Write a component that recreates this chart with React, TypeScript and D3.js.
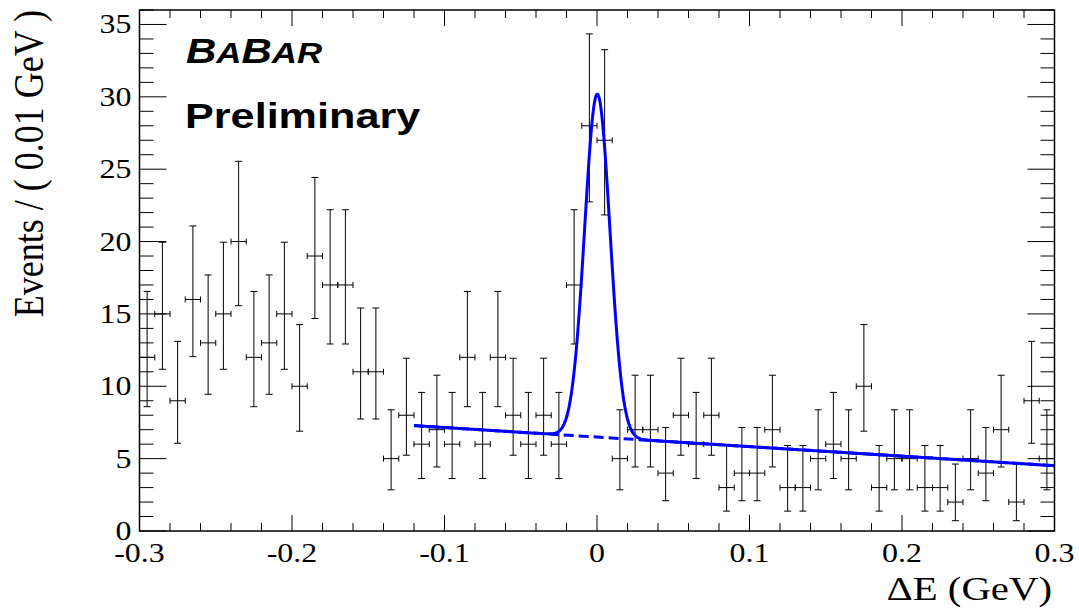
import React from "react";
import * as d3 from "d3";

const W = 1079;
const H = 609;
const frame = { left: 139.5, right: 1054.5, top: 10, bottom: 531 };

// Histogram: events per 0.01 GeV bin in ΔE, from -0.3 to 0.3 GeV
const binLowEdge = -0.3;
const binWidth = 0.01;
const counts = [
  12, 15, 9, 16, 13, 15, 20, 12, 13, 15, 10, 19, 17, 17, 11, 11, 5, 8, 6, 7,
  6, 12, 6, 12, 8, 6, 8, 6, 17, 28, 27, 5, 7, 7, 4, 8, 6, 8, 3, 4,
  4, 7, 3, 3, 5, 6, 5, 10, 3, 5, 5, 3, 3, 2, 5, 4, 7, 2, 9, 5,
];

const xMajorTicks = [-0.3, -0.2, -0.1, 0, 0.1, 0.2, 0.3];
const xTickLabels = ["-0.3", "-0.2", "-0.1", "0", "0.1", "0.2", "0.3"];
const yMajorTicks = [0, 5, 10, 15, 20, 25, 30, 35];
const yTickLabels = ["0", "5", "10", "15", "20", "25", "30", "35"];

// Fit result: Gaussian signal on a linear background (events per bin)
const fitRange = [-0.12, 0.3];
const bkgAtZero = 6.49;
const bkgSlope = -6.6;
const sigAmplitude = 23.7;
const sigMean = 0.0002;
const sigSigma = 0.0083;

const xScale = d3.scaleLinear().domain([-0.3, 0.3]).range([frame.left, frame.right]);
const yScale = d3.scaleLinear().domain([0, 36]).range([frame.bottom, frame.top]);

// 68% Poisson interval (Wilson-Hilferty approximation of the Garwood limits)
function poissonInterval(n: number): [number, number] {
  const lo = n === 0 ? 0 : n * Math.pow(1 - 1 / (9 * n) - 1 / (3 * Math.sqrt(n)), 3);
  const m = n + 1;
  const hi = m * Math.pow(1 - 1 / (9 * m) + 1 / (3 * Math.sqrt(m)), 3);
  return [lo, hi];
}

const bkg = (x: number) => bkgAtZero + bkgSlope * x;
const total = (x: number) =>
  bkg(x) + sigAmplitude * Math.exp(-((x - sigMean) ** 2) / (2 * sigSigma * sigSigma));

const curveX = d3.range(fitRange[0], fitRange[1] + 1e-9, 0.0004);
const lineGen = d3
  .line<number>()
  .x((d) => xScale(d))
  .curve(d3.curveLinear);
const totalPath = lineGen.y((d) => yScale(total(d)))(curveX) as string;
const bkgPath = d3
  .line<number>()
  .x((d) => xScale(d))
  .y((d) => yScale(bkg(d)))([fitRange[0], fitRange[1]]) as string;

const SX = 1.2; // horizontal stretch of the lettering
const serif = "'Liberation Serif', 'Times New Roman', serif";
const sans = "'Liberation Sans', Arial, sans-serif";

export default function App() {
  const xMinor = d3.range(-0.3, 0.3001, 0.02);
  const yMinor = d3.range(0, 36.001, 1);

  const ticks: JSX.Element[] = [];
  xMinor.forEach((v, i) => {
    const major = xMajorTicks.some((t) => Math.abs(t - v) < 1e-6);
    const len = major ? 16 : 8;
    const x = xScale(v);
    ticks.push(<line key={"xb" + i} x1={x} x2={x} y1={frame.bottom} y2={frame.bottom - len} />);
    ticks.push(<line key={"xt" + i} x1={x} x2={x} y1={frame.top} y2={frame.top + len} />);
  });
  yMinor.forEach((v, i) => {
    const major = yMajorTicks.includes(v);
    const len = major ? 27 : 14;
    const y = yScale(v);
    ticks.push(<line key={"yl" + i} x1={frame.left} x2={frame.left + len} y1={y} y2={y} />);
    ticks.push(<line key={"yr" + i} x1={frame.right} x2={frame.right - len} y1={y} y2={y} />);
  });

  const points = counts.map((n, i) => {
    const lo = binLowEdge + i * binWidth;
    const xc = xScale(lo + binWidth / 2);
    const x0 = xScale(lo);
    const x1 = xScale(lo + binWidth);
    const [eLo, eHi] = poissonInterval(n);
    const y = yScale(n);
    const yTop = yScale(eHi);
    const yBot = yScale(eLo);
    return (
      <g key={"p" + i}>
        <line x1={x0} x2={x1} y1={y} y2={y} />
        <line x1={x0} x2={x0} y1={y - 3} y2={y + 3} />
        <line x1={x1} x2={x1} y1={y - 3} y2={y + 3} />
        <line x1={xc} x2={xc} y1={yTop} y2={yBot} />
        <line x1={xc - 3.5} x2={xc + 3.5} y1={yTop} y2={yTop} />
        <line x1={xc - 3.5} x2={xc + 3.5} y1={yBot} y2={yBot} />
      </g>
    );
  });

  return (
    <svg
      width={W}
      height={H}
      style={{ position: "absolute", left: 0, top: 0, background: "#fff" }}
    >
      <rect x={0} y={0} width={W} height={H} fill="#fff" />
      <g stroke="#000" strokeWidth={1} fill="none">
        {points}
      </g>
      <path d={bkgPath} fill="none" stroke="#0000ff" strokeWidth={3} strokeDasharray="10,5" />
      <path d={totalPath} fill="none" stroke="#0000ff" strokeWidth={3} strokeLinejoin="round" />
      <g stroke="#000" strokeWidth={1}>
        {ticks}
      </g>
      <rect
        x={frame.left}
        y={frame.top}
        width={frame.right - frame.left}
        height={frame.bottom - frame.top}
        fill="none"
        stroke="#000"
        strokeWidth={1.5}
      />
      {yMajorTicks.map((v, i) => (
        <g key={"yl" + i} transform={`translate(131.5,${yScale(v) + 9}) scale(${SX},1)`}>
          <text textAnchor="end" fontFamily={serif} fontSize={26.6} fill="#000">
            {yTickLabels[i]}
          </text>
        </g>
      ))}
      {xMajorTicks.map((v, i) => (
        <g key={"xl" + i} transform={`translate(${xScale(v)},562) scale(${SX},1)`}>
          <text textAnchor="middle" fontFamily={serif} fontSize={26.6} fill="#000">
            {xTickLabels[i]}
          </text>
        </g>
      ))}
      <g transform={`translate(1052,600) scale(${SX},1)`}>
        <text textAnchor="end" fontFamily={serif} fontSize={34} fill="#000">
          ΔE (GeV)
        </text>
      </g>
      <g transform={`translate(43,10) scale(${SX},1) rotate(-90)`}>
        <text textAnchor="end" fontFamily={serif} fontSize={36} fill="#000">
          Events / ( 0.01 GeV )
        </text>
      </g>
      <g transform={`translate(186,63) scale(${SX},1)`}>
        <text fontFamily={sans} fontWeight="bold" fontStyle="italic" fill="#000">
          <tspan fontSize={35}>B</tspan>
          <tspan fontSize={29}>A</tspan>
          <tspan fontSize={35}>B</tspan>
          <tspan fontSize={29}>AR</tspan>
        </text>
      </g>
      <g transform={`translate(185,128) scale(${SX},1)`}>
        <text fontFamily={sans} fontWeight="bold" fontSize={36} fill="#000">
          Preliminary
        </text>
      </g>
    </svg>
  );
}
